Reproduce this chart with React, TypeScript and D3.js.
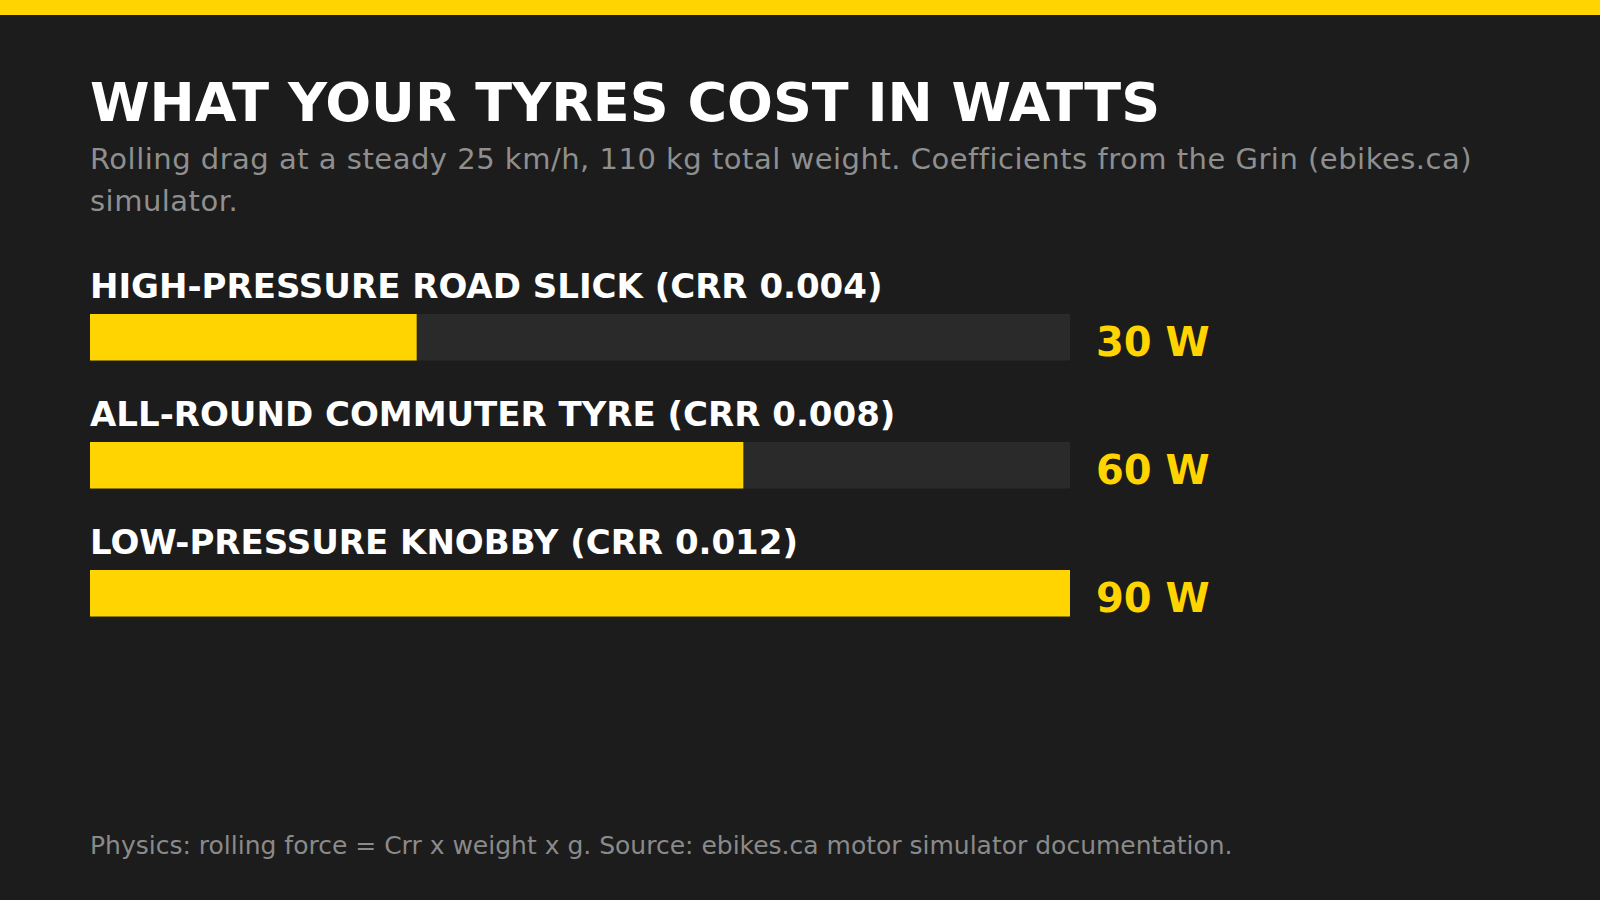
import React from "react";
import * as d3 from "d3";

const TITLE = "WHAT YOUR TYRES COST IN WATTS";
const SUBTITLE_LINES = [
  "Rolling drag at a steady 25 km/h, 110 kg total weight. Coefficients from the Grin (ebikes.ca)",
  "simulator.",
];
const FOOTER = "Physics: rolling force = Crr x weight x g. Source: ebikes.ca motor simulator documentation.";

const categories = [
  "HIGH-PRESSURE ROAD SLICK (CRR 0.004)",
  "ALL-ROUND COMMUTER TYRE (CRR 0.008)",
  "LOW-PRESSURE KNOBBY (CRR 0.012)",
];
const watts = [30, 60, 90];
const valueLabels = ["30 W", "60 W", "90 W"];

const W = 1600;
const H = 900;
const BG = "#1c1c1c";
const TRACK = "#2a2a2a";
const YELLOW = "#ffd400";
const FONT = "'DejaVu Sans', sans-serif";

export default function App() {
  const left = 90;
  const trackW = 980;
  const x = d3.scaleLinear().domain([0, 90]).range([0, trackW]);
  const rowStart = 314;
  const pitch = 128;
  const barH = 46.5;

  return (
    <svg
      width={W}
      height={H}
      viewBox={`0 0 ${W} ${H}`}
      style={{ position: "absolute", left: 0, top: 0, display: "block" }}
    >
      <rect x={0} y={0} width={W} height={H} fill={BG} />
      <rect x={0} y={0} width={W} height={15} fill={YELLOW} />
      <text x={left} y={121} fill="#ffffff" fontFamily={FONT} fontWeight="bold" fontSize={54}>
        {TITLE}
      </text>
      <text fill="#8f8f8f" fontFamily={FONT} fontSize={29} letterSpacing={0.5}>
        {SUBTITLE_LINES.map((l, i) => (
          <tspan key={i} x={left} y={169 + i * 42}>
            {l}
          </tspan>
        ))}
      </text>
      {categories.map((c, i) => {
        const top = rowStart + i * pitch;
        return (
          <g key={c}>
            <text x={left} y={top - 16} fill="#ffffff" fontFamily={FONT} fontWeight="bold" fontSize={34}>
              {c}
            </text>
            <rect x={left} y={top} width={x(90)} height={barH} fill={TRACK} />
            <rect x={left} y={top} width={x(watts[i])} height={barH} fill={YELLOW} />
            <text x={left + trackW + 26} y={top + 42} fill={YELLOW} fontFamily={FONT} fontWeight="bold" fontSize={40}>
              {valueLabels[i]}
            </text>
          </g>
        );
      })}
      <text x={left} y={854} fill="#8a8a8a" fontFamily={FONT} fontSize={25}>
        {FOOTER}
      </text>
    </svg>
  );
}
